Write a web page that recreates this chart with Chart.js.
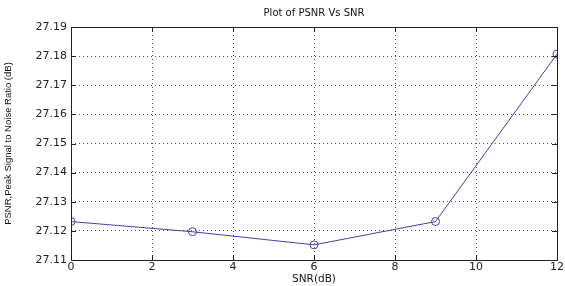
<!DOCTYPE html>
<html><head><meta charset="utf-8">
<script src="https://cdn.jsdelivr.net/npm/chart.js@4"></script>
<style>html,body{margin:0;padding:0;background:#fff}#wrap{width:565px;height:286px}</style>
</head><body><div id="wrap"><canvas id="c" width="565" height="286"></canvas></div>
<script>
const snrValues = [0, 3, 6, 9, 12];
const psnrValues = [27.1232, 27.1197, 27.1152, 27.1232, 27.1807];
const xTickValues = [0, 2, 4, 6, 8, 10, 12];
const yTickValues = [27.11, 27.12, 27.13, 27.14, 27.15, 27.16, 27.17, 27.18, 27.19];
const chartTitle = 'Plot of PSNR Vs SNR';
const xTitle = 'SNR(dB)';
const yTitle = 'PSNR,Peak Signal to Noise Ratio (dB)';

const FONT = 'DejaVu Sans, sans-serif';
const NARROW = 'Liberation Sans Narrow, Liberation Sans, Arial, sans-serif';
const boxPlugin = {
  id: 'box',
  afterDraw(chart) {
    const {ctx, chartArea: a, scales: {x, y}} = chart;
    ctx.save();
    ctx.strokeStyle = '#222';
    ctx.lineWidth = 1;
    ctx.beginPath();
    xTickValues.forEach(v => {
      const px = Math.round(x.getPixelForValue(v)) + 0.5;
      ctx.moveTo(px, a.bottom); ctx.lineTo(px, a.bottom - 5);
      ctx.moveTo(px, a.top); ctx.lineTo(px, a.top + 5);
    });
    yTickValues.forEach(v => {
      const py = Math.round(y.getPixelForValue(v)) + 0.5;
      ctx.moveTo(a.left, py); ctx.lineTo(a.left + 5, py);
      ctx.moveTo(a.right, py); ctx.lineTo(a.right - 5, py);
    });
    ctx.stroke();
    ctx.strokeRect(Math.round(a.left) + 0.5, Math.round(a.top) + 0.5, Math.round(a.right - a.left), Math.round(a.bottom - a.top));
    ctx.restore();
  }
};

new Chart(document.getElementById('c'), {
  type: 'line',
  data: {
    datasets: [{
      data: snrValues.map((s, i) => ({x: s, y: psnrValues[i]})),
      borderColor: '#4040a8',
      borderWidth: 1,
      pointStyle: 'circle',
      pointRadius: 4,
      pointBorderWidth: 1,
      pointBorderColor: '#4040a8',
      pointBackgroundColor: 'rgba(0,0,0,0)',
      tension: 0
    }]
  },
  options: {
    responsive: false,
    animation: false,
    events: [],
    layout: {padding: {left: 0, right: 5, top: 0, bottom: 0}},
    plugins: {
      legend: {display: false},
      tooltip: {enabled: false},
      title: {
        display: true, text: chartTitle, fullSize: false,
        color: '#111', font: {family: FONT, size: 10, weight: 'normal'},
        padding: {top: 7, bottom: 8}
      }
    },
    scales: {
      x: {
        type: 'linear', min: 0, max: 12,
        afterBuildTicks(s) { s.ticks = xTickValues.map(v => ({value: v})); },
        afterFit(s) { s.height = 26; },
        ticks: {color: '#222', font: {family: FONT, size: 11}, padding: 1, maxRotation: 0,
          callback: v => String(v)},
        grid: {color: '#555', lineWidth: 1, drawTicks: false},
        border: {display: false, dash: [1, 3]},
        title: {display: true, text: xTitle, color: '#111', font: {family: FONT, size: 10.5}, padding: {top: -3, bottom: 0}}
      },
      y: {
        type: 'linear', min: 27.11, max: 27.19,
        afterBuildTicks(s) { s.ticks = yTickValues.map(v => ({value: v})); },
        afterFit(s) { s.width = 71; },
        ticks: {color: '#222', font: {family: FONT, size: 11}, padding: 4,
          callback: v => Number(v).toFixed(2)},
        grid: {color: '#555', lineWidth: 1, drawTicks: false},
        border: {display: false, dash: [1, 3]},
        title: {display: true, text: yTitle, color: '#111', font: {family: NARROW, size: 9.5}, padding: {top: 3, bottom: 0}}
      }
    }
  },
  plugins: [boxPlugin]
});
</script>
</body></html>
